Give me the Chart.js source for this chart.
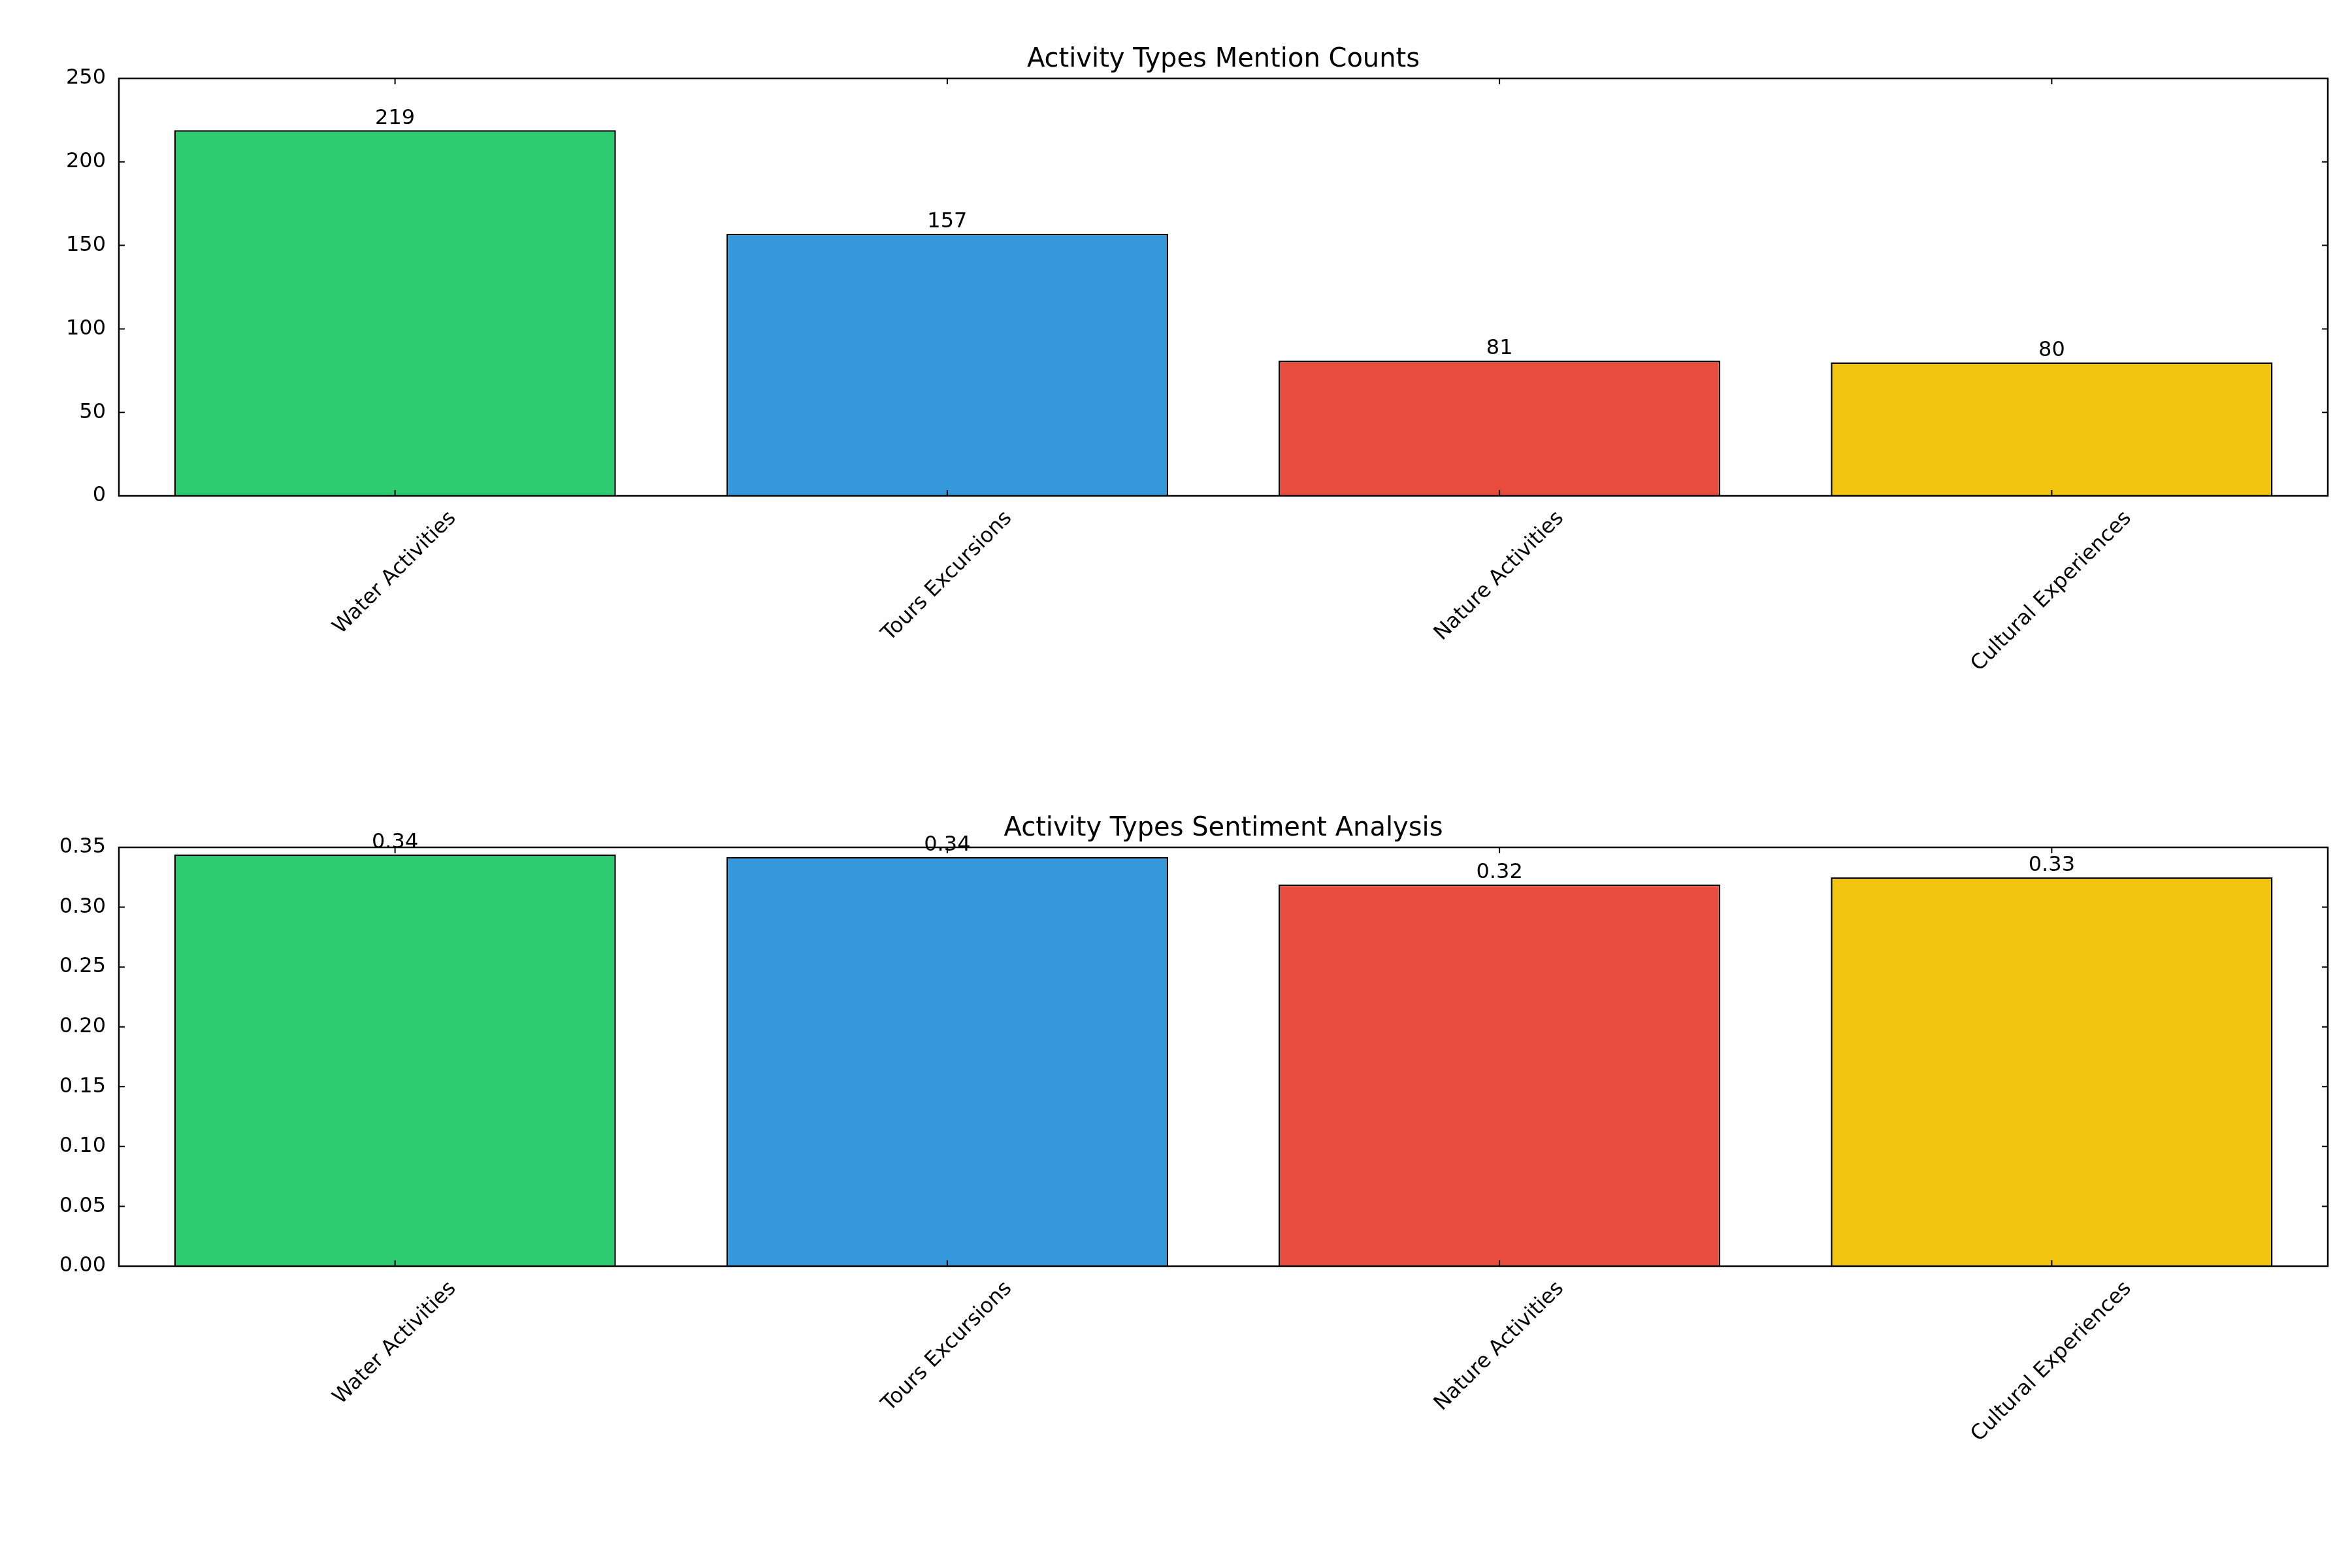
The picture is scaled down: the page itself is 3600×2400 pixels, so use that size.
<!DOCTYPE html>
<html>
<head>
<meta charset="utf-8">
<script src="https://cdn.jsdelivr.net/npm/chart.js@4"></script>
<style>
  body { margin: 0; background: #fff; }
  .box { position: absolute; left: 0; width: 3600px; height: 1200px; }
</style>
</head>
<body>
<div class="box" style="top:0"><canvas id="countChart"></canvas></div>
<div class="box" style="top:1200px"><canvas id="sentChart"></canvas></div>
<script>
// data
const categories = ['Water Activities', 'Tours Excursions', 'Nature Activities', 'Cultural Experiences'];
const mentionCounts = [219, 157, 81, 80];
const sentimentScores = [0.344, 0.342, 0.319, 0.325];
const sentimentLabels = ['0.34', '0.34', '0.32', '0.33'];
const barColors = ['#2ecc71', '#3498db', '#e74c3c', '#f1c40f'];

const FONT = '"DejaVu Sans", sans-serif';

// frame, inward ticks, title, value labels and rotated category labels
const decorPlugin = {
    id: 'decor',
    afterDraw(chart, args, opts) {
        const ctx = chart.ctx;
        const a = chart.chartArea;
        const xs = chart.scales.x, ys = chart.scales.y;
        ctx.save();
        ctx.strokeStyle = '#000';
        ctx.lineWidth = 2.5;
        ctx.strokeRect(a.left, a.top, a.right - a.left, a.bottom - a.top);
        ctx.lineWidth = 2;
        ys.ticks.forEach((t, i) => {
            const y = ys.getPixelForTick(i);
            ctx.beginPath();
            ctx.moveTo(a.left, y); ctx.lineTo(a.left + 9, y);
            ctx.moveTo(a.right, y); ctx.lineTo(a.right - 9, y);
            ctx.stroke();
        });
        ctx.fillStyle = '#000';
        categories.forEach((c, i) => {
            const x = xs.getPixelForValue(i);
            ctx.beginPath();
            ctx.moveTo(x, a.bottom); ctx.lineTo(x, a.bottom - 9);
            ctx.moveTo(x, a.top); ctx.lineTo(x, a.top + 9);
            ctx.stroke();
            // rotated label, centred under tick (matplotlib style)
            ctx.font = '32px ' + FONT;
            const w = ctx.measureText(c).width, h = 32;
            const span = (w + h) * Math.SQRT1_2;
            ctx.save();
            ctx.translate(x, a.bottom + 18 + span / 2);
            ctx.rotate(-Math.PI / 4);
            ctx.textAlign = 'center';
            ctx.textBaseline = 'middle';
            ctx.fillText(c, 0, 0);
            ctx.restore();
            // value label
            const meta = chart.getDatasetMeta(0).data[i];
            ctx.textAlign = 'center';
            ctx.textBaseline = 'bottom';
            ctx.fillText(opts.labels[i], x, meta.y - 2);
        });
        ctx.font = '40px ' + FONT;
        ctx.textAlign = 'center';
        ctx.textBaseline = 'bottom';
        ctx.fillText(opts.title, (a.left + a.right) / 2, a.top - 8);
        ctx.restore();
    }
};

function makeChart(id, values, labels, title, yMax, yStep, decimals, padTop, xHeight) {
    return new Chart(document.getElementById(id), {
        type: 'bar',
        data: {
            labels: categories,
            datasets: [{
                data: values,
                backgroundColor: barColors,
                borderColor: '#000',
                borderWidth: 2.5,
                barPercentage: 0.8,
                categoryPercentage: 1.0
            }]
        },
        plugins: [decorPlugin],
        options: {
            responsive: true,
            maintainAspectRatio: false,
            animation: false,
            layout: { padding: { top: padTop, right: 37, left: 0, bottom: 0 } },
            plugins: {
                legend: { display: false },
                tooltip: { enabled: false },
                decor: { title: title, labels: labels }
            },
            scales: {
                x: {
                    grid: { display: false },
                    border: { display: false },
                    ticks: { display: false },
                    afterFit: (s) => { s.height = xHeight; }
                },
                y: {
                    min: 0, max: yMax,
                    grid: { display: false },
                    border: { display: false },
                    ticks: {
                        stepSize: yStep,
                        color: '#000',
                        padding: 12,
                        font: { family: FONT, size: 32 },
                        callback: (v) => v.toFixed(decimals)
                    },
                    afterFit: (s) => { s.width = 182; }
                }
            }
        }
    });
}

makeChart('countChart', mentionCounts, mentionCounts.map(String),
    'Activity Types Mention Counts', 250, 50, 0, 120, 441);
makeChart('sentChart', sentimentScores, sentimentLabels,
    'Activity Types Sentiment Analysis', 0.35, 0.05, 2, 97, 462);
</script>
</body>
</html>
